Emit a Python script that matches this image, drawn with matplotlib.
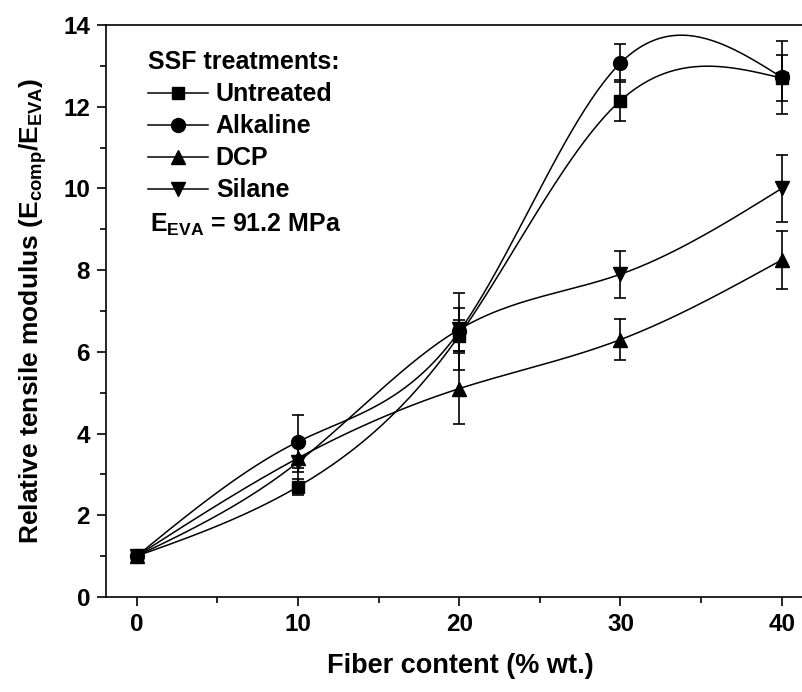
import numpy as np
import matplotlib
matplotlib.use("Agg")
import matplotlib.pyplot as plt
from matplotlib.lines import Line2D

# ---- data ----
fiber = [0, 10, 20, 30, 40]
untreated = [1.0, 2.7, 6.4, 12.15, 12.7]
untreated_err = [0.05, 0.2, 0.37, 0.5, 0.57]
alkaline = [1.0, 3.8, 6.5, 13.07, 12.72]
alkaline_err = [0.05, 0.65, 0.95, 0.47, 0.9]
dcp = [1.0, 3.4, 5.1, 6.3, 8.25]
dcp_err = [0.05, 0.35, 0.86, 0.5, 0.72]
silane = [1.0, 3.3, 6.55, 7.9, 10.0]
silane_err = [0.05, 0.5, 0.52, 0.57, 0.83]
labels = ["Untreated", "Alkaline", "DCP", "Silane"]
markers = ["s", "o", "^", "v"]

plt.rcParams['font.family'] = ['Liberation Sans', 'DejaVu Sans']
plt.rcParams['font.weight'] = 'bold'
plt.rcParams['mathtext.fontset'] = 'custom'
plt.rcParams['mathtext.rm'] = 'Liberation Sans:bold'
plt.rcParams['mathtext.bf'] = 'Liberation Sans:bold'
plt.rcParams['mathtext.it'] = 'Liberation Sans:bold'


def natural_spline(x, y, n=200):
    x = np.asarray(x, float); y = np.asarray(y, float)
    m = len(x); h = np.diff(x)
    A = np.zeros((m, m)); b = np.zeros(m)
    A[0, 0] = 1; A[-1, -1] = 1
    for i in range(1, m - 1):
        A[i, i - 1] = h[i - 1]; A[i, i] = 2 * (h[i - 1] + h[i]); A[i, i + 1] = h[i]
        b[i] = 6 * ((y[i + 1] - y[i]) / h[i] - (y[i] - y[i - 1]) / h[i - 1])
    M = np.linalg.solve(A, b)
    xs = np.linspace(x[0], x[-1], n)
    idx = np.clip(np.searchsorted(x, xs) - 1, 0, m - 2)
    x0 = x[idx]; x1 = x[idx + 1]; hh = x1 - x0
    ys = (M[idx] * (x1 - xs) ** 3 / (6 * hh) + M[idx + 1] * (xs - x0) ** 3 / (6 * hh)
          + (y[idx] / hh - M[idx] * hh / 6) * (x1 - xs)
          + (y[idx + 1] / hh - M[idx + 1] * hh / 6) * (xs - x0))
    return xs, ys


fig = plt.figure(figsize=(8.03, 6.92), dpi=100)
ax = fig.add_axes([106 / 803, 95 / 692, 708 / 803, 572 / 692])

series = [(untreated, untreated_err), (alkaline, alkaline_err), (dcp, dcp_err), (silane, silane_err)]
handles = []
for (vals, errs), lab, mk in zip(series, labels, markers):
    xs, ys = natural_spline(fiber, vals)
    ax.plot(xs, ys, color='black', lw=1.1, zorder=2)
    ms = 8 if mk == 's' else 10
    ax.errorbar(fiber, vals, yerr=errs, fmt=mk, color='black', ms=ms,
                ecolor='black', elinewidth=1.2, capsize=4, capthick=1.2, zorder=3)
    handles.append(Line2D([], [], color='black', lw=1.1, marker=mk, ms=ms))

ax.set_xlim(-1.9, 42)
ax.set_ylim(0, 14)
ax.set_xticks([0, 10, 20, 30, 40])
ax.set_xticks([5, 15, 25, 35], minor=True)
ax.set_yticks(np.arange(0, 15, 2))
ax.set_yticks(np.arange(1, 14, 2), minor=True)
ax.tick_params(which='major', direction='out', length=6.5, width=1.2, pad=5)
ax.tick_params(which='minor', direction='out', length=4, width=1.2)
for lab in ax.get_yticklabels():
    lab.set_fontsize(17.5); lab.set_fontweight('bold')
for lab in ax.get_xticklabels():
    lab.set_fontsize(17.5); lab.set_fontweight('bold')
for sp in ax.spines.values():
    sp.set_linewidth(1.2)

ax.set_xlabel('Fiber content (% wt.)', fontsize=19.5, fontweight='bold', labelpad=12)
ax.set_ylabel(r'Relative tensile modulus (E$_{\mathrm{comp}}$/E$_{\mathrm{EVA}}$)',
              fontsize=19, fontweight='bold', labelpad=10)

leg = ax.legend(handles, labels, loc='upper left', bbox_to_anchor=(0.028, 0.995),
                frameon=False, title='SSF treatments:', handlelength=2.4,
                labelspacing=0.32, handletextpad=0.3,
                prop={'size': 18, 'weight': 'bold'},
                title_fontproperties={'size': 18, 'weight': 'bold'})
leg._legend_box.align = 'left'

ax.text(0.062, 0.65, r'E$_{\mathrm{EVA}}$ = 91.2 MPa', transform=ax.transAxes,
        fontsize=18, fontweight='bold', ha='left', va='center')

fig.savefig('out.png', dpi=100)
